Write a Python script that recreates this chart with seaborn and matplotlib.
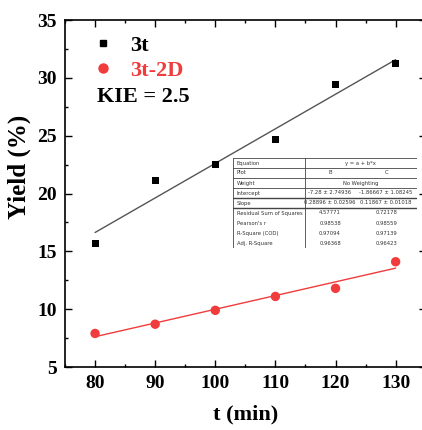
import matplotlib
matplotlib.use("Agg")
import matplotlib.pyplot as plt
import seaborn as sns
import pandas as pd
from matplotlib.ticker import MultipleLocator
from matplotlib.lines import Line2D

# ---- data ----
t_min = [80, 90, 100, 110, 120, 130]
yield_3t = [15.7, 21.1, 22.5, 24.7, 29.4, 31.2]
yield_3t2d = [7.9, 8.7, 9.9, 11.1, 11.8, 14.1]
series_names = ["3t", "3t-2D"]
kie_text = "KIE = 2.5"

table_rows = ["Equation", "Plot", "Weight", "Intercept", "Slope",
              "Residual Sum of Squares", "Pearson's r", "R-Square (COD)", "Adj. R-Square"]
table_col_b = ["y = a + b*x", "B", "No Weighting", "-7.28 \u00b1 2.74936", "0.28896 \u00b1 0.02596",
               "4.57771", "0.98538", "0.97094", "0.96368"]
table_col_c = [None, "C", None, "-1.86667 \u00b1 1.08245", "0.11867 \u00b1 0.01018",
               "0.72178", "0.98559", "0.97139", "0.96423"]

black = "#000000"
red = "#f03c3c"

sns.set_theme(style="ticks")
plt.rcParams["font.family"] = ["Liberation Serif", "DejaVu Serif"]
plt.rcParams["font.weight"] = "bold"
for k in ["text.color", "axes.labelcolor", "xtick.color", "ytick.color", "axes.edgecolor"]:
    plt.rcParams[k] = "black"

df1 = pd.DataFrame({"t": t_min, "y": yield_3t})
df2 = pd.DataFrame({"t": t_min, "y": yield_3t2d})

fig = plt.figure(figsize=(4.22, 4.30), dpi=100)
ax = fig.add_axes([65 / 422, 1 - 367 / 430, (425.7 - 65) / 422, (367 - 20) / 430])

sns.regplot(data=df1, x="t", y="y", ax=ax, scatter=False, ci=None,
            line_kws=dict(color="#555555", lw=1.0))
sns.regplot(data=df2, x="t", y="y", ax=ax, scatter=False, ci=None,
            line_kws=dict(color=red, lw=1.0))
sns.scatterplot(data=df1, x="t", y="y", ax=ax, marker="s", color=black, s=26,
                edgecolor="none", zorder=5)
sns.scatterplot(data=df2, x="t", y="y", ax=ax, marker="o", color=red, s=46,
                edgecolor="none", zorder=5)

ax.set_xlim(75, 135)
ax.set_ylim(5, 35)
ax.xaxis.set_major_locator(MultipleLocator(10))
ax.xaxis.set_minor_locator(MultipleLocator(5))
ax.yaxis.set_major_locator(MultipleLocator(5))
ax.yaxis.set_minor_locator(MultipleLocator(2.5))
ax.tick_params(which="both", direction="in", top=True, right=True, width=1.0, colors="black")
ax.tick_params(which="major", length=5)
ax.tick_params(which="minor", length=2.5)
ax.tick_params(axis="both", labelsize=14, pad=6)
for lab in ax.get_xticklabels() + ax.get_yticklabels():
    lab.set_fontweight("bold")
for sp in ax.spines.values():
    sp.set_visible(True)
    sp.set_linewidth(1.2)
    sp.set_color("black")

ax.set_xlabel("t (min)", fontsize=16, fontweight="bold", labelpad=9)
ax.set_ylabel("Yield (%)", fontsize=18, fontweight="bold", labelpad=2)
ax.yaxis.set_label_coords(-0.094, 0.578)

handles = [Line2D([], [], marker="s", color=black, ls="none", markersize=5),
           Line2D([], [], marker="o", color=red, ls="none", markersize=6.5)]
leg = ax.legend(handles, series_names, loc="upper left", frameon=False,
                prop=dict(size=16, weight="bold"), handletextpad=0.5,
                borderaxespad=0.3, labelspacing=0.2, handlelength=1.5,
                bbox_to_anchor=(0.015, 1.0))
leg.get_texts()[0].set_color(black)
leg.get_texts()[1].set_color(red)
ax.text(0.09, 0.778, kie_text, transform=ax.transAxes, fontsize=16,
        fontweight="bold", va="center", ha="left", color=black)

# ---- inset fit table ----
tax = fig.add_axes([233 / 422, 1 - 248 / 430, (417 - 233) / 422, (248 - 158) / 430])
tax.set_xlim(0, 1)
tax.set_ylim(0, 1)
tax.axis("off")
n = len(table_rows)
rh = 1.0 / n
c1, c2 = 0.39, 0.665
lc = "#444444"
tfont = dict(family="DejaVu Sans", size=3.8, color="#333333", weight="normal", va="center")
tax.plot([0, 0], [0, 1], color=lc, lw=0.6)
tax.plot([c1, c1], [0, 1], color=lc, lw=0.6)
tax.plot([1, 1], [1 - 5 * rh, 1], color=lc, lw=0.6)
for i in range(6):
    lw = 1.0 if i in (4, 5) else 0.6
    tax.plot([0, 1], [1 - i * rh, 1 - i * rh], color=lc, lw=lw)
for i, (r, b, c) in enumerate(zip(table_rows, table_col_b, table_col_c)):
    yc = 1 - (i + 0.5) * rh
    tax.text(0.02, yc, r, ha="left", **tfont)
    if c is None:
        tax.text((c1 + 1) / 2, yc, b, ha="center", **tfont)
    else:
        tax.text((c1 + c2) / 2, yc, b, ha="center", **tfont)
        tax.text((c2 + 1) / 2, yc, c, ha="center", **tfont)

fig.savefig("out.png", dpi=100)
